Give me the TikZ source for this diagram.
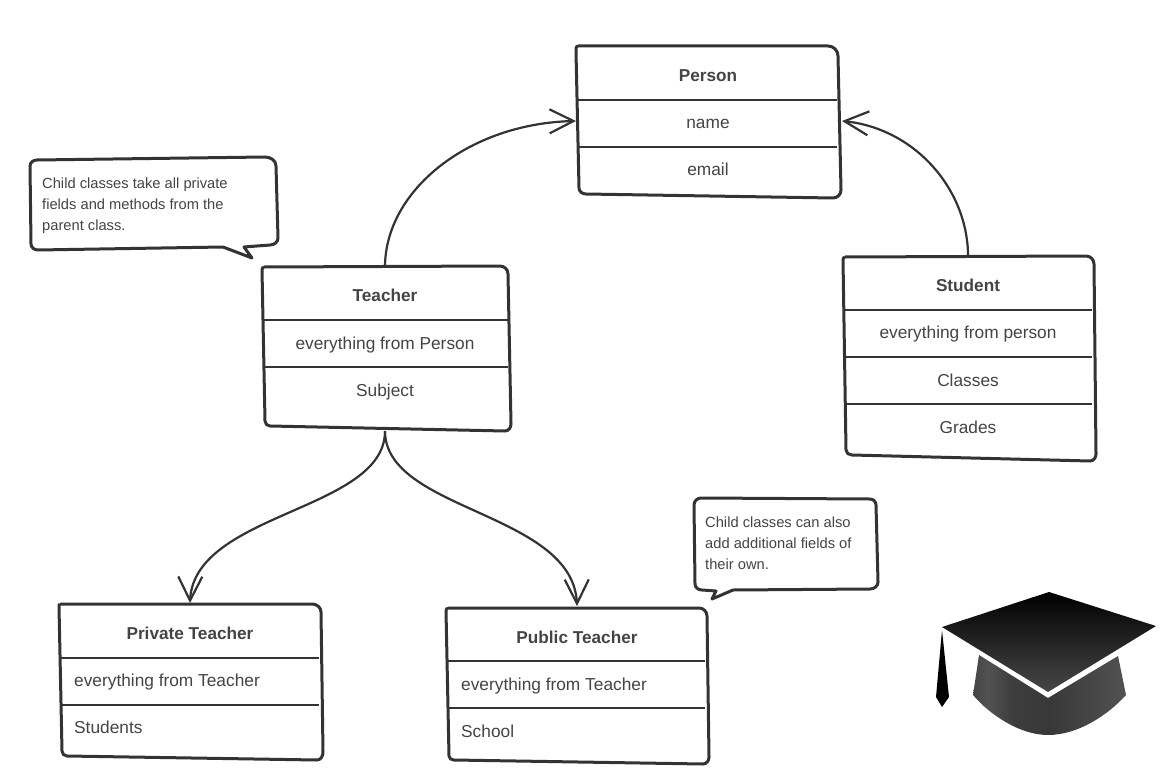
\documentclass[tikz,border=0pt]{standalone}
\usepackage{fontspec}
\setmainfont{Liberation Sans}
\usetikzlibrary{arrows.meta,bending}
\definecolor{ink}{HTML}{333333}
\definecolor{txt}{HTML}{444444}
\pgfdeclarehorizontalshading{capbase}{100bp}{color(0bp)=(black!88!white); color(8bp)=(black!90!white); color(30bp)=(black!68!white); color(38bp)=(black!76!white); color(50bp)=(black!78!white); color(75bp)=(black!68!white); color(92bp)=(black!85!white); color(100bp)=(black!88!white)}
\tikzset{
 outline/.style={draw=ink,line width=3pt,line join=round,fill=white},
 divider/.style={draw=ink,line width=2pt},
 title/.style={text=txt,font=\fontsize{17.2}{20}\selectfont\bfseries,inner sep=0pt,anchor=base},
 field/.style={text=txt,font=\fontsize{17.3}{20}\selectfont,inner sep=0pt,anchor=base},
 leftfield/.style={field,anchor=base west},
 note/.style={text=txt,font=\fontsize{14.7}{21}\selectfont,inner sep=0pt,align=left,anchor=north west},
 link/.style={draw=ink,line width=2.2pt,-{Straight Barb[length=24pt,width=24pt,line width=2.2pt]}},
}
\begin{document}
\begin{tikzpicture}[x=1pt,y=-1pt]
\useasboundingbox (0,0) rectangle (1174,778);
% Person
\draw[outline] (578,46) -- (828,46) to[out=0,in=90] (838,56) -- (841,190) to[out=-90,in=0] (833,198) -- (586,194) to[out=180,in=-90] (579,188) -- (576,52) to[out=90,in=180] (578,46);
\draw[divider] (578,100) -- (837,100);
\draw[divider] (578,147) -- (837,147);
\node[title] (person) at (708,82) {Person};
\node[field] (pname) at (708,128.5) {name};
\node[field] (pemail) at (708,175.5) {email};
\coordinate (personL) at (576,121);
\coordinate (personR) at (842,121);
% Teacher
\draw[outline] (264,267) -- (500,266) to[out=0,in=90] (508,274) -- (511,424) to[out=-90,in=0] (505,431) -- (270,426) to[out=180,in=-90] (265,421) -- (262,270) to[out=90,in=180] (264,267);
\draw[divider] (263,320) -- (508,320);
\draw[divider] (263,367) -- (508,367);
\node[title] (teacher) at (385,301.5) {Teacher};
\node[field] (tf1) at (385,349) {everything from Person};
\node[field] (tf2) at (385,396) {Subject};
\coordinate (teacherT) at (385,267);
\coordinate (teacherB) at (385,431);
% Student
\draw[outline] (845,257) -- (1086,256) to[out=0,in=90] (1094,264) -- (1096,454) to[out=-90,in=0] (1090,461) -- (852,455) to[out=180,in=-90] (846,450) -- (843,260) to[out=90,in=180] (845,257);
\draw[divider] (845,310) -- (1092,310);
\draw[divider] (845,357) -- (1092,357);
\draw[divider] (845,404) -- (1092,404);
\node[title] (student) at (968,291.5) {Student};
\node[field] (sf1) at (968,338.5) {everything from person};
\node[field] (sf2) at (968,386) {Classes};
\node[field] (sf3) at (968,433) {Grades};
\coordinate (studentT) at (968,256);
% Private teacher
\draw[outline] (60,604) -- (312,604) to[out=0,in=90] (321,612) -- (323,752) to[out=-90,in=0] (317,760) -- (67,756) to[out=180,in=-90] (62,751) -- (59,607) to[out=90,in=180] (60,604);
\draw[divider] (61,658) -- (319,658);
\draw[divider] (61,705) -- (319,705);
\node[title] (private) at (190,639) {Private Teacher};
\node[leftfield] (pv1) at (74,686) {everything from Teacher};
\node[leftfield] (pv2) at (74,733) {Students};
\coordinate (privateT) at (190,603);
% Public teacher
\draw[outline] (448,608) -- (699,608) to[out=0,in=90] (707,616) -- (709,757) to[out=-90,in=0] (703,764) -- (454,760) to[out=180,in=-90] (449,756) -- (446,611) to[out=90,in=180] (448,608);
\draw[divider] (448,661) -- (705,661);
\draw[divider] (448,708) -- (705,708);
\node[title] (public) at (577,643) {Public Teacher};
\node[leftfield] (pb1) at (461,690) {everything from Teacher};
\node[leftfield] (pb2) at (461,737) {School};
\coordinate (publicT) at (577,606);
% Connectors
\draw[link] (teacherT) .. controls (385,190) and (470,122) .. (personL);
\draw[link] (studentT) .. controls (968,190) and (915,127) .. (personR);
\draw[link] (teacherB) .. controls (385,512) and (190,512) .. (privateT);
\draw[link] (teacherB) .. controls (385,512) and (577,512) .. (publicT);
% Callouts
\draw[outline] (37,160) -- (265,157) to[out=0,in=90] (276,166) -- (278,238) to[out=-90,in=0] (270,245) -- (244,247) -- (252,258) -- (223,247) -- (38,250) to[out=180,in=-90] (31,244) -- (30,166) to[out=90,in=180] (37,160);
\node[note] (noteA) at (42,178) {Child classes take all private\\fields and methods from the\\parent class.};
\draw[outline] (701,498) -- (870,499) to[out=0,in=90] (876,505) -- (878,582) to[out=-90,in=0] (870,589) -- (733,590) -- (712,599) -- (716,591) -- (702,590) to[out=180,in=-90] (695,584) -- (694,505) to[out=90,in=180] (701,498);
\node[note] (noteB) at (705,517) {Child classes can also\\add additional fields of\\their own.};
% Cap
\path[shading=capbase] (979,655) -- (973,695) .. controls (990,715) and (1020,735) .. (1048,735) .. controls (1078,735) and (1108,715) .. (1126,695) -- (1118,656) -- (1048,698) -- cycle;
\path[top color=black,bottom color=black!72!white] (1049,592) -- (1156,626) -- (1048,692) -- (942,627) -- cycle;
\fill[black] (942,630) -- (949,697) -- (942,707) -- (936,697) -- cycle;
\end{tikzpicture}
\end{document}
